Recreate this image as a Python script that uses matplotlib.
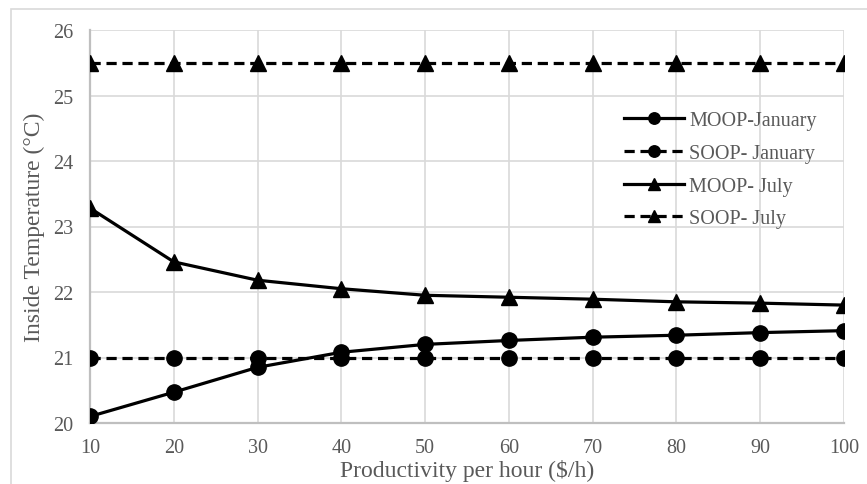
import matplotlib.pyplot as plt
from matplotlib.patches import Rectangle

# Datos
productivity = [10, 20, 30, 40, 50, 60, 70, 80, 90, 100]
moop_january = [20.10, 20.47, 20.85, 21.08, 21.20, 21.26, 21.31, 21.34, 21.38, 21.41]
soop_january = [21.0, 21.0, 21.0, 21.0, 21.0, 21.0, 21.0, 21.0, 21.0, 21.0]
moop_july = [23.28, 22.46, 22.18, 22.05, 21.95, 21.92, 21.89, 21.85, 21.83, 21.80]
soop_july = [25.5, 25.5, 25.5, 25.5, 25.5, 25.5, 25.5, 25.5, 25.5, 25.5]
y_ticks = [20, 21, 22, 23, 24, 25, 26]

plt.rcParams['font.family'] = ['Liberation Serif', 'DejaVu Serif']
text_grey = '#595959'

fig = plt.figure(figsize=(8.67, 4.85), dpi=100)
ax = fig.add_axes([90 / 867, 1 - 424 / 485, (844 - 90) / 867, (424 - 31) / 485])

# marco exterior del grafico (estilo Excel)
fig.patches.append(Rectangle((11 / 867, -0.02), 1.0, 1 - 10 / 485 + 0.02,
                             transform=fig.transFigure, fill=False,
                             edgecolor='#d9d9d9', linewidth=1.2))

lw = 2.3
ms = 11
dash = (3.2, 1.8)

ax.plot(productivity, moop_january, color='black', lw=lw, marker='o', ms=ms,
        label='MOOP-January', zorder=4)
ax.plot(productivity, soop_january, color='black', lw=lw, marker='o', ms=ms,
        dashes=dash, label='SOOP- January', zorder=3)
ax.plot(productivity, moop_july, color='black', lw=lw, marker='^', ms=ms,
        label='MOOP- July', zorder=3)
ax.plot(productivity, soop_july, color='black', lw=lw, marker='^', ms=ms,
        dashes=dash, label='SOOP- July', zorder=3)

ax.set_xlim(10, 100)
ax.set_ylim(20, 26)
ax.set_xticks(productivity)
ax.set_yticks(y_ticks)
ax.grid(True, color='#d9d9d9', linewidth=1.2)
ax.set_axisbelow(True)
ax.tick_params(length=0, labelsize=14.5, labelcolor=text_grey)
ax.tick_params(axis='x', pad=11)
ax.tick_params(axis='y', pad=12)
for s in ['top', 'right']:
    ax.spines[s].set_visible(False)
for s in ['left', 'bottom']:
    ax.spines[s].set_color('#bfbfbf')
    ax.spines[s].set_linewidth(1.6)
for lab in ax.get_xticklabels() + ax.get_yticklabels():
    lab.set_clip_on(False)

ax.set_xlabel('Productivity per hour ($/h)', fontsize=17, color=text_grey, labelpad=1)
ax.set_ylabel('Inside Temperature (°C)', fontsize=17, color=text_grey, labelpad=6)

leg = ax.legend(loc='upper left', bbox_to_anchor=(0.684, 0.84), frameon=False,
                fontsize=14.5, handlelength=3.0, labelspacing=0.68, handletextpad=0.25,
                markerscale=0.75)
for t in leg.get_texts():
    t.set_color(text_grey)

fig.savefig('out.png', dpi=100)
